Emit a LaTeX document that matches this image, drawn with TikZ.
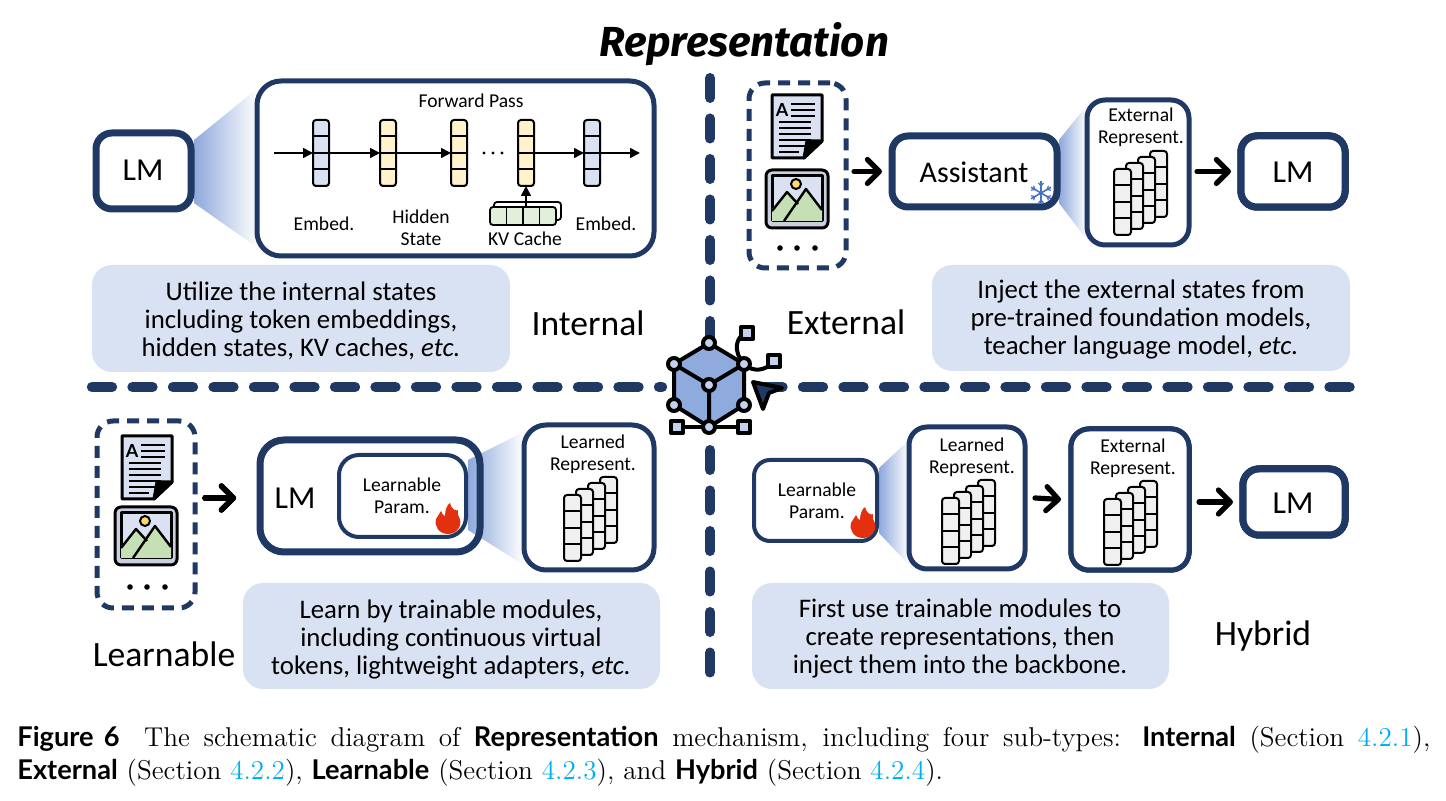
\documentclass[tikz,border=0pt]{standalone}
\usepackage{fontspec}
\usetikzlibrary{arrows.meta,calc}
\setmainfont{Latin Modern Roman}
\newfontfamily\capsans{Lato}[UprightFont=* Bold]
\newfontfamily\handfont{Carlito}
\newfontfamily\titlefont{Fira Sans}[UprightFont=* Bold,ItalicFont=* Bold Italic]
\definecolor{navy}{HTML}{203864}
\definecolor{panelblue}{HTML}{D9E2F3}
\definecolor{cellblue}{HTML}{D9E1F2}
\definecolor{cellyellow}{HTML}{FFF2CC}
\definecolor{cellgreen}{HTML}{E2EFDA}
\definecolor{cellgrey}{HTML}{F0F0F0}
\definecolor{wedgeblue}{HTML}{8EA9DB}
\definecolor{cubeblue}{HTML}{8FAADC}
\definecolor{linkcyan}{HTML}{00AEEF}
\definecolor{flamered}{HTML}{E3300F}
\definecolor{snowblue}{HTML}{4472C4}
\definecolor{hillgreen}{HTML}{C5E0B4}
\definecolor{framegrey}{HTML}{C9CFDF}
\definecolor{sunyellow}{HTML}{FFD966}
\tikzset{
  heavybox/.style={draw=navy,line width=3.5pt,fill=white,rounded corners=8pt,inner sep=0pt,outer sep=0pt},
  midbox/.style={draw=navy,line width=2.5pt,fill=white,rounded corners=9pt,inner sep=0pt,outer sep=0pt},
  thinbox/.style={draw=navy,line width=2pt,fill=white,rounded corners=8pt,inner sep=0pt,outer sep=0pt},
  dashbox/.style={draw=navy,line width=2.5pt,dash pattern=on 6pt off 4pt,rounded corners=8pt,inner sep=0pt,outer sep=0pt},
  panel/.style={fill=panelblue,rounded corners=10pt,inner sep=0pt,outer sep=0pt},
  lmtext/.style={font=\handfont\fontsize{16}{20}\selectfont,inner sep=0pt},
  tagtext/.style={font=\handfont\fontsize{17.8}{20}\selectfont,inner sep=0pt},
  bodytext/.style={font=\handfont\fontsize{13.4}{14}\selectfont,align=center,inner sep=0pt},
  smalltext/.style={font=\handfont\fontsize{9.8}{10.8}\selectfont,align=center,inner sep=0pt},
  captext/.style={anchor=west,inner sep=0pt,font=\fontsize{13.6}{16}\selectfont},
  bigarrow/.style={line width=2.6pt,line cap=round,-{Straight Barb[length=6pt,width=12pt,round]}},
  thinarrow/.style={line width=0.8pt,-{Triangle[length=5pt,width=5pt]}},
  vdivider/.style={navy,line cap=round,line width=5pt,dash pattern=on 10pt off 10.25pt},
  hdivider/.style={navy,line cap=round,line width=5.2pt,dash pattern=on 10pt off 10.25pt},
  icon/.style={black,line width=1.5pt,line join=round},
  cubeline/.style={black,line width=2pt,line join=round},
}
\newcommand{\capbold}[1]{{\capsans #1}}
% rectangle node given by its corners: name, style, x0, y0, x1, y1
\newcommand{\cornerbox}[6]{%
  \pgfmathsetmacro\boxw{(#5-#3)*0.5}%
  \pgfmathsetmacro\boxh{(#6-#4)*0.5}%
  \node[#2,minimum width=\boxw pt,minimum height=\boxh pt] (#1) at ({(#3+#5)/2},{(#4+#6)/2}) {};}
% vertical strip of four cells: x, top, width, height, fill
\newcommand{\cellstrip}[5]{%
  \draw[black,line width=1pt,fill=#5,rounded corners=1.5pt] (#1,#2) rectangle ({#1+#3},{#2+#4});
  \foreach \k in {1,2,3}
    \draw[black,line width=1pt] (#1,{#2+\k*#4/4}) -- ({#1+#3},{#2+\k*#4/4});}
% fanned stack of four strips, given the top-left of the front one
\newcommand{\repstack}[2]{%
  \foreach \j in {3,2,1,0}
    \cellstrip{\the\numexpr#1+\j*12\relax}{\the\numexpr#2-\j*6\relax}{17}{66}{cellgrey}}
% page icon centred on x, y
\newcommand{\pageicon}[3]{%
  \begin{scope}[shift={(#2,#3)}]
    \draw[icon,fill=cellblue] (-25,-32) -- (25,-32) -- (25,14) -- (7,31) -- (-25,31) -- cycle;
    \draw[icon,fill=black] (25,14) -- (10,14) -- (7,31) -- cycle;
    \node[font=\capsans\fontsize{9}{9}\selectfont,inner sep=0pt] (#1) at (-15,-17) {A};
    \foreach \ya/\xa in {-23/-6,-17/-6,-11/-6}
      \draw[black,line width=1pt] (\xa,\ya) -- (18,\ya);
    \foreach \ya in {-5,1,7,13,19}
      \draw[black,line width=1pt] (-18,\ya) -- (14,\ya);
    \draw[black,line width=1pt] (-18,25) -- (2,25);
  \end{scope}}
% picture icon centred on x, y
\newcommand{\imageicon}[3]{%
  \begin{scope}[shift={(#2,#3)}]
    \draw[icon,fill=framegrey,rounded corners=3pt] (-31,-29) rectangle (31,29);
    \coordinate (#1) at (0,0);
    \draw[icon,fill=cellblue] (-25,-23) rectangle (25,22);
    \fill[hillgreen] (-25,22) -- (-25,10) -- (-10,-7) -- (-2,2) -- (9,-10) -- (25,11) -- (25,22) -- cycle;
    \draw[icon,line width=1.2pt] (-25,12) -- (-10,-7) -- (1,5);
    \draw[icon,line width=1.2pt] (-13,22) -- (9,-10) -- (25,11);
    \draw[icon,line width=1pt,fill=sunyellow] (-1,-15) circle (5);
  \end{scope}}
% three dots under the icons
\newcommand{\threedots}[2]{%
  \foreach \d in {-17,0,18} \fill[black] ({#1+\d},#2) circle (2.8);}
% flame centred on x, y
\newcommand{\flame}[2]{%
  \begin{scope}[shift={(#1,#2)}]
    \fill[flamered] (2,-16) .. controls (4,-8) and (9,-8) .. (10,-9)
      .. controls (9,-6) and (10,-3) .. (11,-2)
      .. controls (15,5) and (10,15) .. (0,15)
      .. controls (-9,15) and (-14,7) .. (-12,0)
      .. controls (-11,-3) and (-8,-5) .. (-7,-8)
      .. controls (-6,-5) and (-5,-4) .. (-3,-3)
      .. controls (-3,-9) and (-1,-14) .. (2,-16) -- cycle;
  \end{scope}}
% snowflake centred on x, y
\newcommand{\snowflake}[2]{%
  \begin{scope}[shift={(#1,#2)}]
    \foreach \a in {30,90,...,330} {
      \draw[snowblue,line width=0.8pt] (0,0) -- (\a:11.5);
      \draw[snowblue,line width=0.6pt] (\a:7) -- ++(\a+40:4);
      \draw[snowblue,line width=0.6pt] (\a:7) -- ++(\a-40:4);
    }
  \end{scope}}
\begin{document}
\begin{tikzpicture}[x=0.5pt,y=-0.5pt]
\useasboundingbox (0,0) rectangle (1446,801);
\fill[white] (0,0) rectangle (1446,801);

% title
\node[font=\titlefont\itshape\fontsize{21}{24}\selectfont,inner sep=0pt] (title) at (744,44) {Representation};

% quadrant dividers
\draw[vdivider] (710,78) -- (710,340);
\draw[vdivider] (710,450) -- (710,675);
\draw[hdivider] (92,387) -- (662,387);
\draw[hdivider] (762.5,387) -- (1352,387);

% text panels
\cornerbox{panelA}{panel}{92}{265}{510}{372}
\cornerbox{panelB}{panel}{932}{265}{1350}{371}
\cornerbox{panelC}{panel}{243}{583}{660}{689}
\cornerbox{panelD}{panel}{752}{583}{1169}{689}
\node[bodytext] (noteA) at (301,320.5) {Utilize the internal states\\including token embeddings,\\hidden states, KV caches, \textit{etc.}};
\node[bodytext] (noteB) at (1141,320) {Inject the external states from\\pre-trained foundation models,\\teacher language model, \textit{etc.}};
\node[bodytext] (noteC) at (451,639) {Learn by trainable modules,\\including continuous virtual\\tokens, lightweight adapters, \textit{etc.}};
\node[bodytext] (noteD) at (960,638.5) {First use trainable modules to\\create representations, then\\inject them into the backbone.};
\node[tagtext] (tagA) at (588,323) {Internal};
\node[tagtext] (tagB) at (846,322) {External};
\node[tagtext] (tagC) at (164,654) {Learnable};
\node[tagtext] (tagD) at (1263,636) {Hybrid};

% internal quadrant
\shade[left color=wedgeblue,right color=white] (194,140) -- (258,88) -- (258,248) -- (194,203) -- cycle;
\cornerbox{lmA}{heavybox}{96}{133}{191}{209}
\node[lmtext] (lmAt) at (143,170) {LM};
\cornerbox{forward}{midbox,rounded corners=12pt}{257}{81}{654}{256}
\node[smalltext] (fwdt) at (471,101) {Forward Pass};
\cellstrip{313}{120}{16}{66}{cellblue}
\cellstrip{380}{120}{16}{66}{cellyellow}
\cellstrip{451}{120}{16}{66}{cellyellow}
\cellstrip{518}{120}{16}{66}{cellyellow}
\cellstrip{584}{120}{16}{66}{cellblue}
\coordinate (flowin) at (274,153);
\coordinate (c1) at (313,153);
\coordinate (c2) at (380,153);
\coordinate (c3) at (451,153);
\coordinate (c4) at (534,153);
\coordinate (c5) at (584,153);
\coordinate (flowout) at (640,153);
\draw[thinarrow] (flowin) -- (c1);
\draw[thinarrow] (c1) -- (c2);
\draw[thinarrow] (c2) -- (c3);
\draw[thinarrow] (c4) -- (c5);
\draw[thinarrow] (c5) -- (flowout);
\foreach \d in {484,493,502} \fill[black] (\d,153) circle (1.6);
% key-value cache: a back sheet and a front row of four cells
\draw[black,line width=0.9pt,fill=white,rounded corners=1.5pt] (494,202) rectangle (561,220);
\draw[black,line width=0.9pt,fill=cellgreen,rounded corners=1.5pt] (490,207) rectangle (556,225);
\foreach \s in {1,2,3}
  \draw[black,line width=0.9pt] ({490+\s*16.5},207) -- ({490+\s*16.5},225);
\coordinate (kvtop) at (526,207);
\coordinate (c4low) at (526,186);
\draw[thinarrow] (kvtop) -- (c4low);
\node[smalltext] (emb1) at (324,224) {Embed.};
\node[smalltext] (hid) at (421,228) {Hidden\\State};
\node[smalltext] (kvt) at (525,239) {KV Cache};
\node[smalltext] (emb2) at (606,224) {Embed.};

% external quadrant
\cornerbox{srcB}{dashbox}{749}{83}{846}{268}
\pageicon{docB}{797}{127}
\imageicon{imgB}{797}{199}
\threedots{797}{248}
\shade[left color=wedgeblue,right color=white] (1059,140) -- (1087,105) -- (1087,240) -- (1059,203) -- cycle;
\cornerbox{assist}{heavybox}{892}{136}{1057}{207}
\node[lmtext,font=\handfont\fontsize{15}{18}\selectfont] (assistt) at (974,172) {Assistant};
\snowflake{1041}{193}
\cornerbox{extB}{midbox}{1087}{100}{1189}{245}
\node[smalltext] (extBt) at (1141,127) {External\\Represent.};
\repstack{1114}{169}
\cornerbox{lmB}{heavybox}{1241}{136}{1345}{207}
\node[lmtext] (lmBt) at (1293,172) {LM};
\draw[bigarrow] ([xshift=4pt]srcB.east |- assist.west) -- ([xshift=-5pt]assist.west);
\draw[bigarrow] ([xshift=4pt]extB.east |- lmB.west) -- ([xshift=-5pt]lmB.west);

% learnable quadrant
\cornerbox{srcC}{dashbox}{97}{421}{195}{608}
\pageicon{docC}{147}{468}
\imageicon{imgC}{146}{536}
\threedots{147}{587}
\shade[left color=wedgeblue,right color=white] (468,460) -- (524,432) -- (524,565) -- (468,530) -- cycle;
\draw[navy,line width=3.5pt,rounded corners=12pt] (260,440) rectangle (480,552);
\node[lmtext] (lmCt) at (295,498) {LM};
\node[inner sep=0pt,outer sep=0pt,minimum width=110pt,minimum height=55pt] (lmC) at (370,498) {};
\cornerbox{param}{thinbox,rounded corners=10pt}{339}{455}{466}{537}
\node[smalltext] (paramt) at (402,496) {Learnable\\Param.};
\flame{448}{519}
\cornerbox{learnC}{midbox,rounded corners=11pt}{524}{425}{654}{570}
\node[smalltext] (learnCt) at (593,454) {Learned\\Represent.};
\repstack{564}{495}
\draw[bigarrow] ([xshift=5pt]srcC.east |- lmC.west) -- ([xshift=-12pt]lmC.west);

% hybrid quadrant
\shade[left color=wedgeblue,right color=white] (879,468) -- (909,440) -- (909,565) -- (879,533) -- cycle;
\cornerbox{paramD}{thinbox}{754}{460}{877}{541}
\node[smalltext] (paramDt) at (817,501) {Learnable\\Param.};
\flame{863}{523}
\cornerbox{learnD}{midbox}{909}{427}{1025}{569}
\node[smalltext] (learnDt) at (972,457) {Learned\\Represent.};
\repstack{942}{498}
\cornerbox{extD}{midbox}{1071}{429}{1189}{570}
\node[smalltext] (extDt) at (1133,458) {External\\Represent.};
\repstack{1104}{499}
\cornerbox{lmD}{heavybox}{1243}{469}{1345}{535}
\node[lmtext] (lmDt) at (1293,503) {LM};
\draw[bigarrow] ([xshift=5pt]learnD.east) -- ([xshift=-5pt]extD.west);
\draw[bigarrow] ([xshift=5pt]extD.east |- lmD.west) -- ([xshift=-5pt]lmD.west);

% central cube emblem
\coordinate (vT) at (709,343);
\coordinate (vUR) at (744,364);
\coordinate (vLR) at (744,405);
\coordinate (vB) at (709,427);
\coordinate (vLL) at (674,405);
\coordinate (vUL) at (674,364);
\coordinate (vC) at (709,385);
\fill[cubeblue] (vT) -- (vUR) -- (vLR) -- (vB) -- (vLL) -- (vUL) -- cycle;
\draw[cubeline] (vT) -- (vUR) -- (vLR) -- (vB) -- (vLL) -- (vUL) -- cycle;
\draw[cubeline] (vUL) -- (vC) -- (vUR) (vC) -- (vB);
\coordinate (sq1) at (747,333);
\coordinate (sq2) at (774,361);
\coordinate (sq3) at (677,427);
\coordinate (sq4) at (744,427);
\draw[cubeline] (vUR) .. controls (733,352) and (735,336) .. (sq1);
\draw[cubeline] (vUR) .. controls (752,372) and (765,372) .. (sq2);
\draw[cubeline] (sq3) -- (sq4);
\foreach \v in {vT,vUR,vLR,vB,vLL,vUL,vC}
  \draw[cubeline,fill=panelblue!70!cubeblue] (\v) circle (6);
\foreach \v in {sq1,sq2,sq3,sq4}
  \draw[cubeline,fill=panelblue!70!cubeblue] ($(\v)+(-6,-6)$) rectangle ($(\v)+(6,6)$);
\draw[cubeline,fill=navy] (753,382) -- (782,388) -- (769,393) -- (763,409) -- cycle;

% caption
\node[captext] (capA) at (17,740) {\hbox to 706.5pt{\capbold{Figure 6}\hspace{0.9em}The schematic diagram of \capbold{Representation} mechanism, including four sub-types: \capbold{Internal} (Section \textcolor{linkcyan}{4.2.1}),}};
\node[captext] (capB) at (17,773) {\capbold{External} (Section \textcolor{linkcyan}{4.2.2}), \capbold{Learnable} (Section \textcolor{linkcyan}{4.2.3}), and \capbold{Hybrid} (Section \textcolor{linkcyan}{4.2.4}).};
\end{tikzpicture}
\end{document}
